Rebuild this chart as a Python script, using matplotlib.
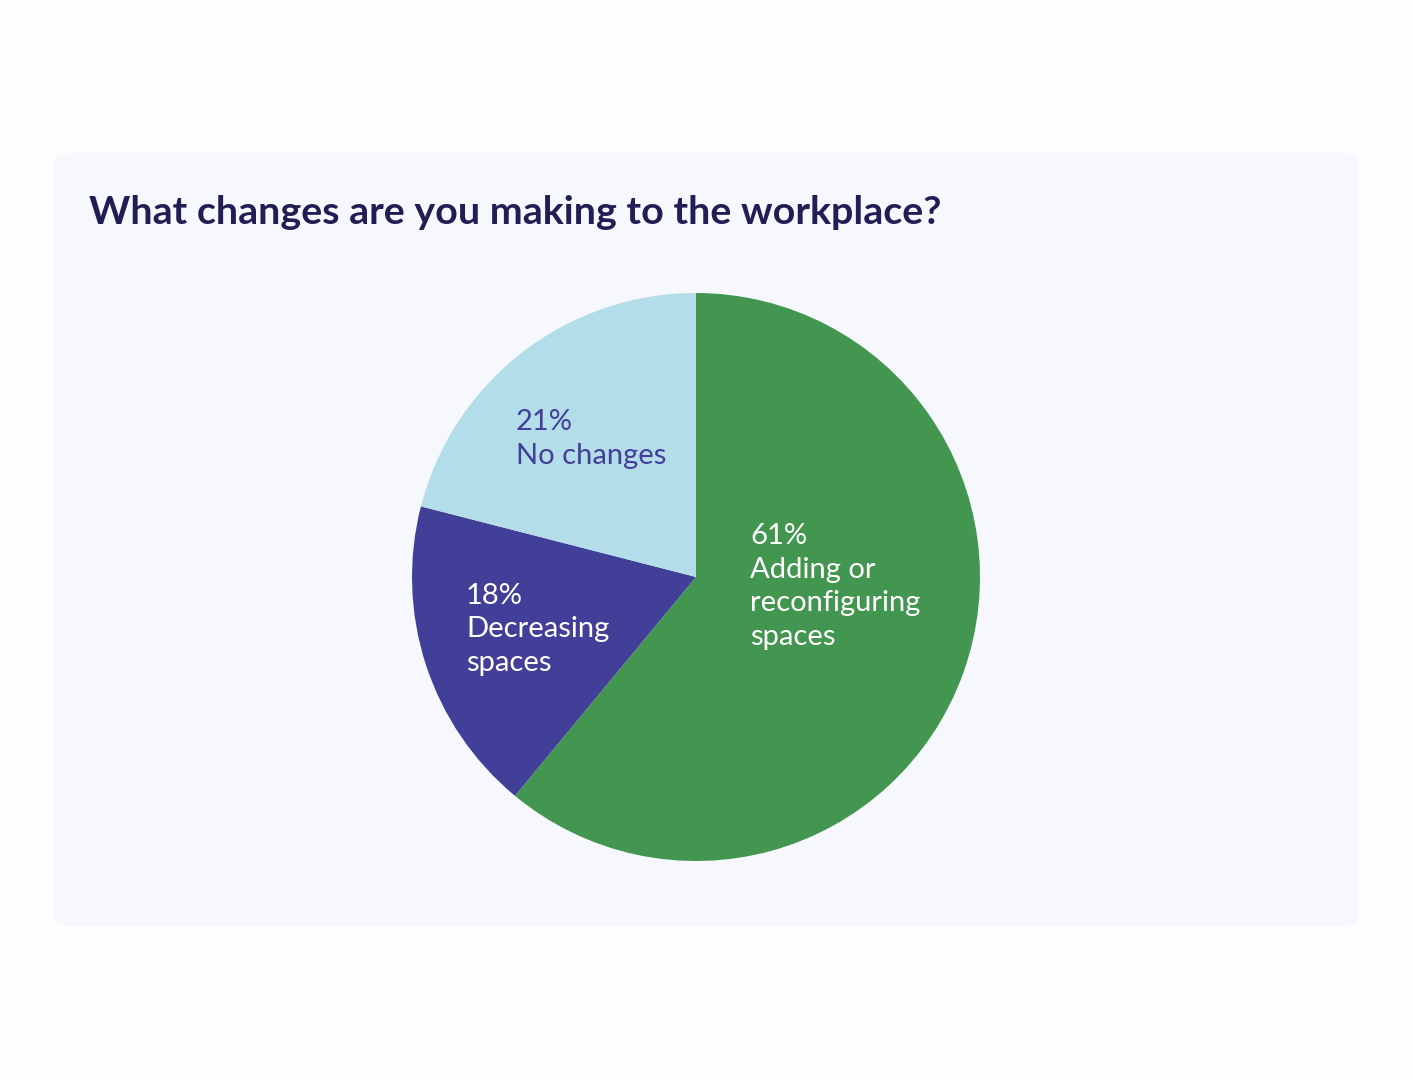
import matplotlib.pyplot as plt
from matplotlib.patches import FancyBboxPatch

## Data
categories = ["Adding or\nreconfiguring\nspaces", "Decreasing\nspaces", "No changes"]
shares = [61, 18, 21]
slice_colors = ["#43964f", "#423f98", "#b3dde9"]
label_colors = ["white", "white", "#423f98"]
# label anchor (upper-left) in pie data units
label_pos = [(0.19, 0.19), (-0.81, -0.02), (-0.635, 0.59)]

W, H = 1413, 1080
plt.rcParams["font.family"] = ["Lato", "DejaVu Sans"]

fig = plt.figure(figsize=(W / 100, H / 100), dpi=100)
fig.patch.set_facecolor("#fdfdfe")

# Background card in pixel coordinates.
bg = fig.add_axes([0, 0, 1, 1])
bg.set_xlim(0, W)
bg.set_ylim(H, 0)
bg.axis("off")
card = FancyBboxPatch((53, 153), 1306, 773, boxstyle="round,pad=0,rounding_size=16",
                      facecolor="#f6f8fd", edgecolor="none")
bg.add_patch(card)
title = bg.text(89, 224, "What changes are you making to the workplace?", fontsize=28.4,
                fontweight="bold", color="#1f1f55", va="baseline", ha="left")

# Pie axes: centre (696, 577), radius 284 px.
cx, cy, r = 696, 577, 284
ax = fig.add_axes([(cx - r) / W, (H - cy - r) / H, 2 * r / W, 2 * r / H])
ax.pie(shares, colors=slice_colors, startangle=90, counterclock=False, radius=1,
       wedgeprops={"linewidth": 0})
ax.set_xlim(-1, 1)
ax.set_ylim(-1, 1)
ax.set_aspect("equal")
ax.axis("off")

for name, val, col, (x, y) in zip(categories, shares, label_colors, label_pos):
    ax.text(x, y, f"{val}%\n{name}", color=col, fontsize=21, ha="left", va="top",
            linespacing=1.36)

fig.savefig("out.png", dpi=100, facecolor=fig.get_facecolor())
